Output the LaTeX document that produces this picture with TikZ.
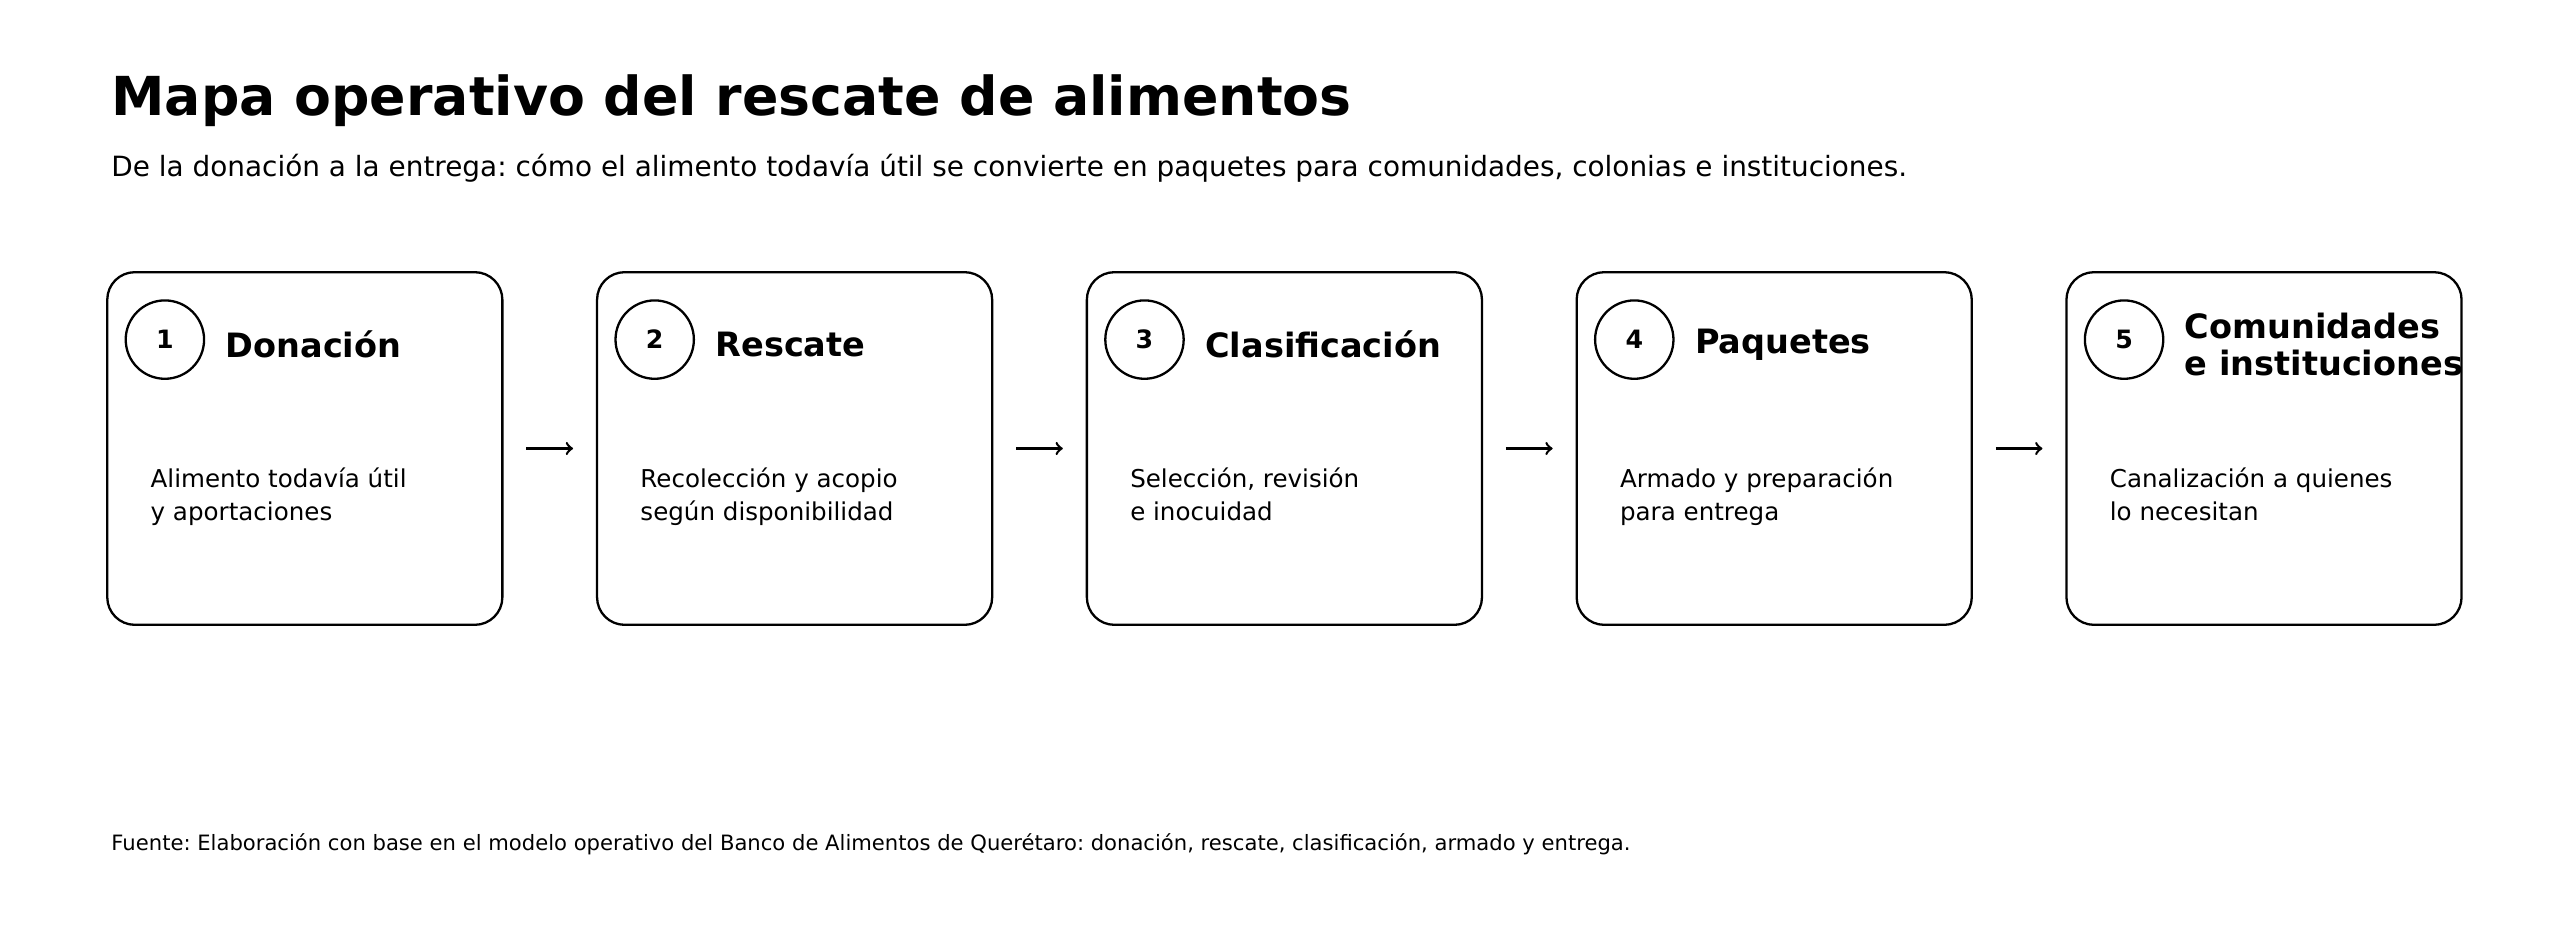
\documentclass[tikz,border=0pt]{standalone}
\usepackage{fontspec}
\setmainfont{DejaVu Sans}
\frenchspacing
\usetikzlibrary{positioning, arrows}
\tikzstyle{stage} = [rectangle, rounded corners=12pt, draw, line width=1pt, minimum width=242*0.025cm, minimum height=216*0.025cm, anchor=north west]
\tikzstyle{num} = [circle, draw, line width=1pt, minimum size=48*0.025cm, inner sep=0pt, font=\bfseries\fontsize{11}{13}\selectfont]
\tikzstyle{head} = [anchor=west, align=left, inner sep=0pt, font=\bfseries\fontsize{14.6}{16}\selectfont]
\tikzstyle{body} = [anchor=north west, align=left, inner sep=0pt, font=\fontsize{10.7}{14.5}\selectfont]
\tikzstyle{arrow} = [line width=1.1pt,->,>=to]

\begin{document}
\begin{tikzpicture}[x=0.025cm, y=-0.025cm]
            \useasboundingbox (0,0) rectangle (1568,581);
            \node [anchor=base west, inner sep=0pt, font=\bfseries\fontsize{23.4}{26}\selectfont] at (68,71) (title) {Mapa operativo del rescate de alimentos};
            \node [anchor=base west, inner sep=0pt, font=\fontsize{12.15}{14}\selectfont] at (68,108) (subtitle) {De la donación a la entrega: cómo el alimento todavía útil se convierte en paquetes para comunidades, colonias e instituciones.};

            \node [stage] at (65,166) (s1) {};
            \node [stage] at (365,166) (s2) {};
            \node [stage] at (665,166) (s3) {};
            \node [stage] at (965,166) (s4) {};
            \node [stage] at (1265,166) (s5) {};

            \node [num] at (101,208) (n1) {1};
            \node [num] at (401,208) (n2) {2};
            \node [num] at (701,208) (n3) {3};
            \node [num] at (1001,208) (n4) {4};
            \node [num] at (1301,208) (n5) {5};

            \node [head] at (138,211) (h1) {Donación};
            \node [head] at (438,211) (h2) {Rescate};
            \node [head] at (738,211) (h3) {Clasificación};
            \node [head] at (1038,211) (h4) {Paquetes};
            \node [head] at (1338,211) (h5) {Comunidades\\e instituciones};

            \node [body] at (92,286) (b1) {Alimento todavía útil\\y aportaciones};
            \node [body] at (392,286) (b2) {Recolección y acopio\\según disponibilidad};
            \node [body] at (692,286) (b3) {Selección, revisión\\e inocuidad};
            \node [body] at (992,286) (b4) {Armado y preparación\\para entrega};
            \node [body] at (1292,286) (b5) {Canalización a quienes\\lo necesitan};

            \draw [arrow] ([xshift=14*0.025cm]s1.east) -- ([xshift=-14*0.025cm]s2.west);
            \draw [arrow] ([xshift=14*0.025cm]s2.east) -- ([xshift=-14*0.025cm]s3.west);
            \draw [arrow] ([xshift=14*0.025cm]s3.east) -- ([xshift=-14*0.025cm]s4.west);
            \draw [arrow] ([xshift=14*0.025cm]s4.east) -- ([xshift=-14*0.025cm]s5.west);

            \node [anchor=base west, inner sep=0pt, font=\fontsize{9.2}{11}\selectfont] at (68,521) (source) {Fuente: Elaboración con base en el modelo operativo del Banco de Alimentos de Querétaro: donación, rescate, clasificación, armado y entrega.};
\end{tikzpicture}
\end{document}
